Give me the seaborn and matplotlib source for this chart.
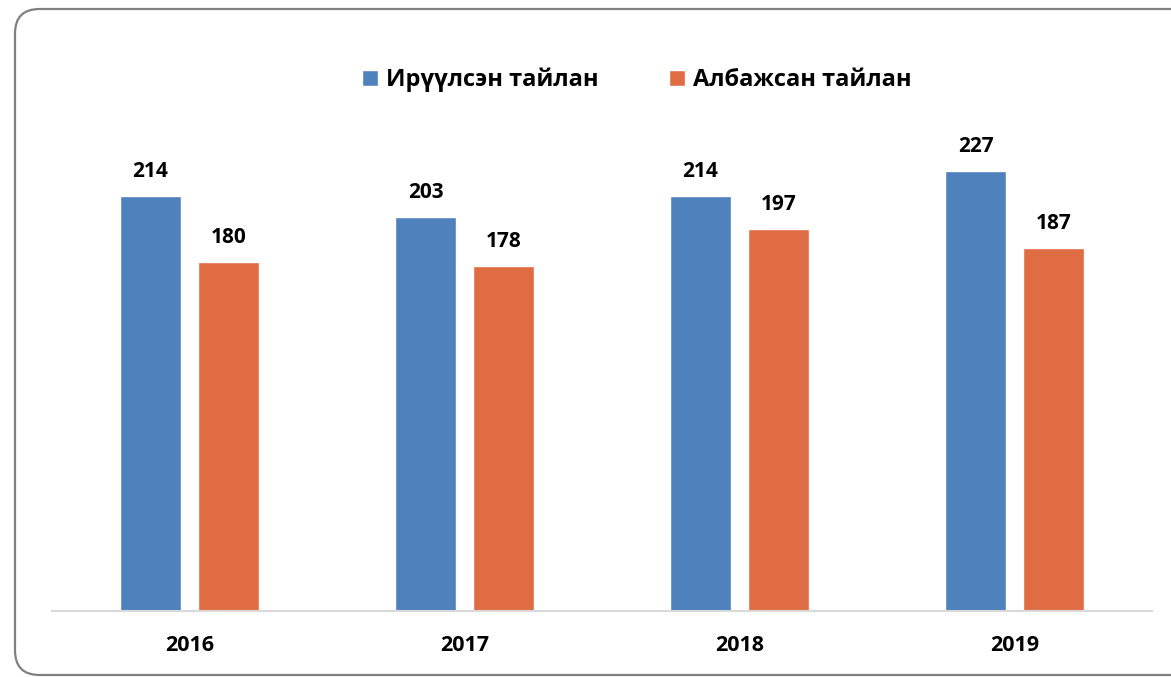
import pandas as pd
import seaborn as sns
import matplotlib
import matplotlib.pyplot as plt
from matplotlib.patches import FancyBboxPatch

matplotlib.use('Agg')

# Chart data
years = ['2016', '2017', '2018', '2019']
submitted = [214, 203, 214, 227]   # Ирүүлсэн тайлан
required = [180, 178, 197, 187]    # Албажсан тайлан
series_names = ['Ирүүлсэн тайлан', 'Албажсан тайлан']
colors = ['#4f81bd', '#e06c44']

df = pd.DataFrame({
    'year': years * 2,
    'value': submitted + required,
    'series': [series_names[0]] * len(years) + [series_names[1]] * len(years),
})

sns.set_style('white')
plt.rcParams['font.family'] = ['Open Sans', 'DejaVu Sans']
plt.rcParams['text.color'] = 'black'
plt.rcParams['xtick.color'] = 'black'

fig = plt.figure(figsize=(11.71, 6.77), dpi=100)

# Rounded outer frame
frame = FancyBboxPatch((15 / 1171, 2 / 677), 1.2, 666 / 677,
                       boxstyle='round,pad=0,rounding_size=0.021',
                       transform=fig.transFigure, facecolor='white',
                       edgecolor='#808080', linewidth=1.6, zorder=-1,
                       mutation_aspect=1171 / 677)
fig.patches.append(frame)

ax = fig.add_axes([52 / 1171, 66 / 677, 1100 / 1171, 485 / 677])
ax.set_zorder(1)
ax.set_facecolor('none')

sns.barplot(data=df, x='year', y='value', hue='series', palette=colors,
            width=0.567, gap=0.22, ax=ax, saturation=1)

ax.set_ylim(0, 250)
ax.set_xlim(-0.5, 3.5)

# Value labels
for container in ax.containers:
    ax.bar_label(container, padding=10, fontsize=15, fontweight='bold')

ax.set_xlabel('')
ax.set_ylabel('')
ax.set_yticks([])
ax.tick_params(axis='x', length=0, pad=17, labelsize=15.5)
for lbl in ax.get_xticklabels():
    lbl.set_fontweight('bold')

sns.despine(ax=ax, left=True, top=True, right=True)
ax.spines['bottom'].set_color('#d9d9d9')
ax.spines['bottom'].set_linewidth(1.5)

# Legend above the plot
handles, labels = ax.get_legend_handles_labels()
ax.get_legend().remove()
fig.legend(handles, labels, loc='center', bbox_to_anchor=(637 / 1171, 1 - 80 / 677),
           ncol=2, frameon=False, prop={'size': 17, 'weight': 'bold'},
           handlelength=0.65, handleheight=0.65, handletextpad=0.35,
           columnspacing=3.0)

plt.savefig('out.png', dpi=100)
plt.close()
